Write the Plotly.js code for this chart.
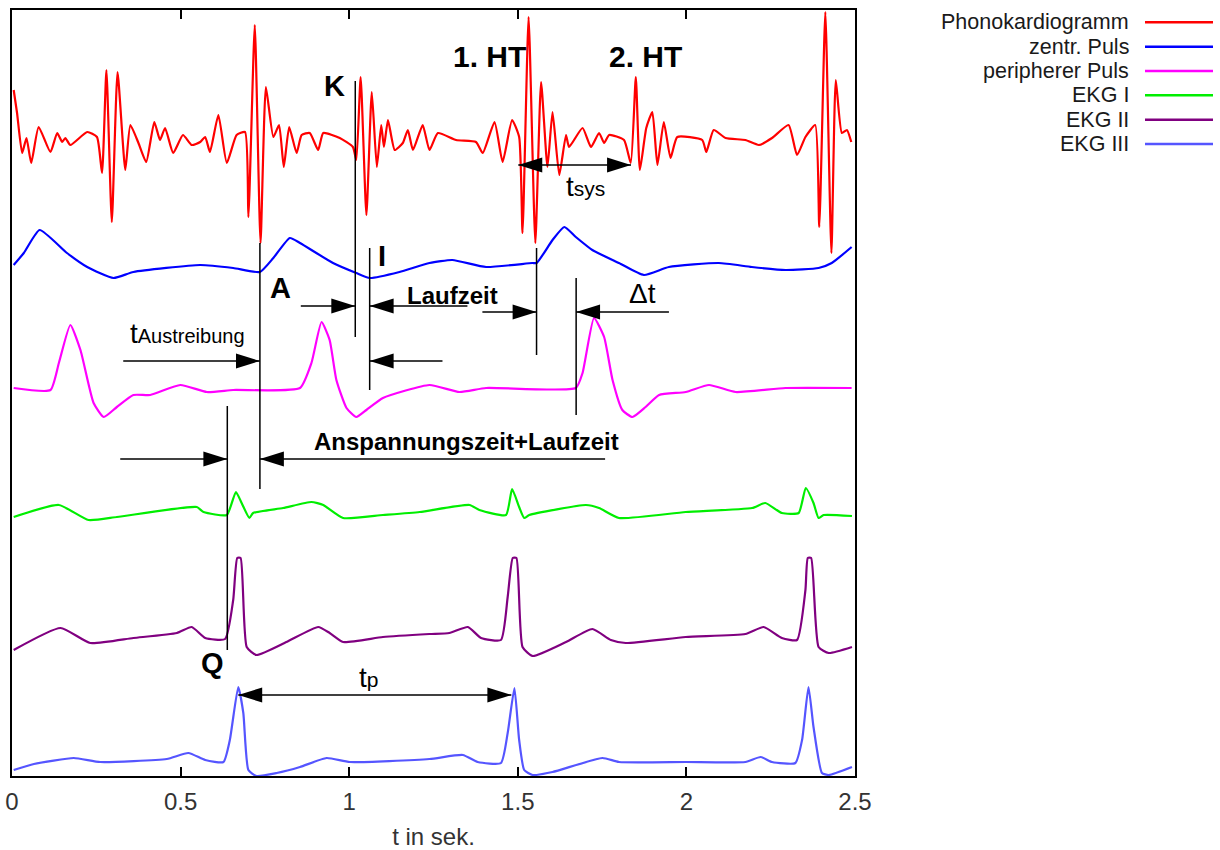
<!DOCTYPE html>
<html>
<head>
<meta charset="utf-8">
<script src="https://cdn.plot.ly/plotly-3.0.1.min.js"></script>
<style>html,body{margin:0;padding:0;background:#fff;}#chart{width:1220px;height:850px;}</style>
</head>
<body>
<div id="chart"></div>
<script>
// ---------- DATA (time in s, amplitude in plot units, each trace on its own offset) ----------
const seriesNames = ["Phonokardiogramm", "zentr. Puls", "peripherer Puls", "EKG I", "EKG II", "EKG III"];
const seriesColors = ["#ff0000", "#0000ff", "#ff00ff", "#00ee00", "#800080", "#5555ff"];

const tPhono = [0.005,0.015,0.030,0.043,0.057,0.079,0.114,0.134,0.149,0.158,0.173,0.223,0.252,0.267,0.280,0.296,0.313,0.336,0.351,0.375,0.398,0.422,0.439,0.454,0.478,0.507,0.533,0.558,0.573,0.587,0.612,0.637,0.666,0.691,0.701,0.720,0.737,0.753,0.775,0.792,0.806,0.822,0.844,0.859,0.883,0.908,0.923,0.972,1.011,1.021,1.034,1.051,1.067,1.082,1.095,1.103,1.115,1.135,1.159,1.174,1.189,1.218,1.238,1.263,1.317,1.376,1.396,1.431,1.455,1.483,1.504,1.514,1.532,1.552,1.569,1.588,1.603,1.623,1.643,1.652,1.692,1.717,1.741,1.756,1.771,1.815,1.835,1.850,1.862,1.881,1.899,1.914,1.933,1.953,1.973,2.047,2.059,2.081,2.116,2.175,2.215,2.254,2.303,2.328,2.353,2.382,2.394,2.412,2.430,2.443,2.461,2.476,2.489];
const vPhono = [686,663,623,638,613,649,624,643,634,638,631,644,639,603,706,554,704,606,651,633,614,654,636,648,623,641,631,634,639,624,661,613,641,644,559,751,533,689,639,651,609,649,623,641,643,626,643,638,629,616,699,561,684,609,651,629,656,626,633,646,626,651,626,643,636,634,623,654,614,656,639,543,759,533,694,609,664,601,641,629,648,629,643,633,641,636,613,699,606,648,664,611,654,618,639,636,624,646,638,636,631,638,651,621,639,651,549,764,523,696,643,646,634];

const tZentral = [0.005,0.035,0.082,0.163,0.223,0.301,0.360,0.558,0.656,0.735,0.775,0.824,0.854,0.952,1.021,1.061,1.149,1.238,1.306,1.406,1.543,1.556,1.603,1.638,1.672,1.721,1.800,1.874,1.948,2.096,2.194,2.294,2.392,2.431,2.490];
const vZentral = [511,523,546,523,509,498,504,511,508,504,518,538,533,513,503,498,504,513,516,509,513,513,536,549,539,526,513,501,509,513,509,506,508,513,529];

const tPeripher = [0.005,0.114,0.139,0.173,0.203,0.242,0.272,0.311,0.360,0.410,0.499,0.578,0.656,0.854,0.888,0.918,0.942,0.962,0.992,1.021,1.051,1.100,1.238,1.327,1.406,1.672,1.692,1.726,1.756,1.781,1.810,1.840,1.879,1.919,1.998,2.067,2.146,2.294,2.490];
const vPeripher = [388,386,413,451,426,373,359,369,381,381,391,384,386,388,413,454,436,396,368,359,366,378,391,384,388,388,403,458,439,396,366,359,369,381,384,391,384,388,388];

const tEkg1 = [0.005,0.139,0.227,0.311,0.548,0.568,0.637,0.664,0.681,0.704,0.715,0.804,0.888,0.923,0.982,1.100,1.209,1.357,1.386,1.465,1.483,1.504,1.519,1.534,1.702,1.741,1.800,1.998,2.195,2.234,2.283,2.333,2.354,2.377,2.392,2.407,2.491];
const vEkg1 = [259,271,256,259,269,264,261,284,273,258,263,268,274,271,258,261,264,271,266,261,287,269,258,261,271,268,258,264,268,273,263,263,288,273,258,261,260];

const tEkg2 = [0.005,0.144,0.232,0.360,0.489,0.533,0.573,0.632,0.656,0.668,0.678,0.696,0.725,0.814,0.908,0.942,0.982,1.100,1.238,1.297,1.352,1.391,1.450,1.470,1.485,1.496,1.514,1.544,1.643,1.721,1.776,1.820,1.998,2.175,2.229,2.283,2.328,2.353,2.360,2.370,2.392,2.422,2.491];
const vEkg2 = [126,148,133,138,143,149,138,137,176,218,218,129,121,134,149,143,134,139,142,143,149,138,136,179,218,218,129,120,134,147,136,133,139,142,149,138,136,186,218,218,129,123,129];

const tEkg3 = [0.005,0.065,0.183,0.262,0.459,0.523,0.573,0.627,0.646,0.671,0.686,0.701,0.725,0.785,0.854,0.933,1.002,1.238,1.337,1.381,1.450,1.470,1.490,1.504,1.519,1.544,1.603,1.751,1.800,1.998,2.175,2.220,2.254,2.323,2.343,2.362,2.377,2.402,2.422,2.491];
const vEkg3 = [6,12,18,14,17,23,16,14,36,89,63,6,0,3,9,18,14,17,21,14,13,43,88,36,6,1,4,18,14,14,14,19,14,13,36,89,49,3,1,9];

const xTickVals = [0, 0.5, 1, 1.5, 2, 2.5];
const xTickText = ["0", "0.5", "1", "1.5", "2", "2.5"];

// ---------- TRACES ----------
const tArr = [tPhono, tZentral, tPeripher, tEkg1, tEkg2, tEkg3];
const vArr = [vPhono, vZentral, vPeripher, vEkg1, vEkg2, vEkg3];
const traces = tArr.map((t, i) => ({
  type: 'scatter', mode: 'lines', x: t, y: vArr[i], name: seriesNames[i],
  line: {color: seriesColors[i], width: 2.2, shape: 'spline', smoothing: 0.5}, showlegend: false, hoverinfo: 'skip'
}));

// ---------- ANNOTATION GEOMETRY ----------
const FONT = "Liberation Sans, Arial, sans-serif";
const PXT = 338;   // pixels per second on x
const shapes = [];
const annotations = [];

function vline(t, v0, v1) {
  shapes.push({type: 'line', xref: 'x', yref: 'y', x0: t, x1: t, y0: v0, y1: v1, line: {color: '#000', width: 1.5}});
}
function head(tTip, v, dir) {
  const L = 24 / PXT, H = 7.5, tb = tTip - dir * L;
  shapes.push({type: 'path', xref: 'x', yref: 'y', path: `M ${tTip},${v} L ${tb},${v + H} L ${tb},${v - H} Z`,
    fillcolor: '#000', line: {width: 0}});
}
function arrow(tFrom, tTo, v, both) {
  shapes.push({type: 'line', xref: 'x', yref: 'y', x0: tFrom, x1: tTo, y0: v, y1: v, line: {color: '#000', width: 1.3}});
  const dir = tTo > tFrom ? 1 : -1;
  head(tTo, v, dir);
  if (both) head(tFrom, v, -dir);
}
function label(t, v, text, size, bold) {
  annotations.push({xref: 'x', yref: 'y', x: t, y: v, text: bold ? '<b>' + text + '</b>' : text,
    showarrow: false, font: {family: FONT, size: size, color: '#000'}, xanchor: 'center', yanchor: 'middle'});
}

// vertical marker lines (K, I, A, Q, 1.HT, delta t)
vline(1.018, 695, 439);
vline(1.0607, 528, 386);
vline(0.7352, 533, 287);
vline(0.6385, 370, 126);
vline(1.5556, 528, 421);
vline(1.673, 498, 361);

// arrows
arrow(0.8565, 1.018, 470);
arrow(1.3506, 1.0607, 470);
arrow(1.395, 1.5556, 464);
arrow(1.9482, 1.673, 464);
arrow(0.3299, 0.7352, 415);
arrow(1.2766, 1.0607, 415);
arrow(0.321, 0.6385, 317);
arrow(1.7589, 0.7352, 317);
arrow(1.5015, 1.8358, 611, true);
arrow(0.671, 1.4808, 81, true);

// text labels
label(0.957, 690, 'K', 29, true);
label(1.096, 520, 'I', 29, true);
label(0.796, 488, 'A', 29, true);
label(0.596, 113, 'Q', 29, true);
label(1.416, 720, '1. HT', 30, true);
label(1.879, 720, '2. HT', 30, true);
label(1.305, 481, 'Laufzeit', 24, true);
label(1.347, 335, 'Anspannungszeit+Laufzeit', 24, true);
label(1.871, 483, '\u0394t', 28, false);
label(0.519, 443, 't<span style="font-size:20px">Austreibung</span>', 28, false);
label(1.700, 590, 't<span style="font-size:21px">sys</span>', 28, false);
label(1.058, 99, 't<span style="font-size:21px">p</span>', 28, false);

// manual gnuplot-style legend (text right-aligned, sample line to its right)
const plotL = 12, plotW = 843, plotT = 10, plotH = 766;
seriesNames.forEach((nm, i) => {
  const py = 22.3 + i * 24.35;
  const yp = 1 - (py - plotT) / plotH;
  annotations.push({xref: 'paper', yref: 'paper', x: (1130 - plotL) / plotW, y: yp, text: nm, showarrow: false,
    xanchor: 'right', yanchor: 'middle', borderpad: 0, font: {family: FONT, size: 21.5, color: '#1a1a1a'}});
  shapes.push({type: 'line', xref: 'paper', yref: 'paper', x0: (1145 - plotL) / plotW, x1: (1213 - plotL) / plotW,
    y0: yp, y1: yp, line: {color: seriesColors[i], width: 2.5}});
});

const layout = {
  width: 1220, height: 850,
  margin: {l: plotL, r: 1220 - plotL - plotW, t: plotT, b: 850 - plotT - plotH},
  paper_bgcolor: '#fff', plot_bgcolor: '#fff',
  showlegend: false,
  xaxis: {
    range: [0, 2.5], tickvals: xTickVals, ticktext: xTickText,
    ticks: 'inside', ticklen: 9, tickwidth: 2, tickcolor: '#000',
    showline: true, linecolor: '#000', linewidth: 2, mirror: 'ticks',
    showgrid: false, zeroline: false, ticklabelstandoff: 3,
    tickfont: {family: FONT, size: 24, color: '#333'},
    title: {text: 't in sek.', font: {family: FONT, size: 24, color: '#333'}, standoff: 14}
  },
  yaxis: {
    range: [0, 766], showticklabels: false, ticks: '', showgrid: false, zeroline: false,
    showline: true, linecolor: '#000', linewidth: 2, mirror: true
  },
  shapes: shapes,
  annotations: annotations,
  font: {family: FONT}
};

Plotly.newPlot('chart', traces, layout, {displayModeBar: false, staticPlot: true});
</script>
</body>
</html>
